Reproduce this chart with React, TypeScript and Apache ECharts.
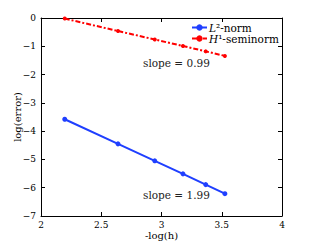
import React, { useEffect, useRef } from "react";
import * as echarts from "echarts";

const xValues = [2.197, 2.639, 2.944, 3.178, 3.367, 3.526];
const l2Values = [-3.58, -4.45, -5.05, -5.51, -5.89, -6.21];
const h1Values = [-0.02, -0.46, -0.76, -0.99, -1.18, -1.34];
const xTicks = [2, 2.5, 3, 3.5, 4];
const slopeLabels = ["slope = 0.99", "slope = 1.99"];

const FONT = "DejaVu Serif";

export default function App() {
  const ref = useRef<HTMLDivElement>(null);
  useEffect(() => {
    const chart = echarts.init(ref.current!, null, { renderer: "svg" });
    const axisCommon = {
      axisLine: { show: true, onZero: false, lineStyle: { color: "#000", width: 1 } },
      axisTick: { show: true, inside: true, length: 4, lineStyle: { color: "#000" } },
      splitLine: { show: false },
    };
    chart.setOption({
      animation: false,
      grid: { left: 41, right: 29, top: 18, bottom: 28, outerBoundsMode: "none", containLabel: false },
      xAxis: [
        {
          type: "value",
          min: 2,
          max: 4,
          interval: 0.5,
          position: "bottom",
          ...axisCommon,
          axisLabel: {
            color: "#000",
            fontFamily: FONT,
            fontSize: 9,
            margin: 4,
            formatter: (v: number) => (xTicks.includes(v) ? String(v) : ""),
          },
          name: "-log(h)",
          nameLocation: "middle",
          nameGap: 14,
          nameMoveOverlap: false,
          nameTextStyle: { color: "#000", fontFamily: FONT, fontSize: 10 },
        },
        {
          type: "value",
          min: 2,
          max: 4,
          interval: 0.5,
          position: "top",
          ...axisCommon,
          axisLabel: { show: false },
        },
      ],
      yAxis: [
        {
          type: "value",
          min: -7,
          max: 0,
          interval: 1,
          position: "left",
          ...axisCommon,
          axisLabel: {
            color: "#000",
            fontFamily: FONT,
            fontSize: 9,
            margin: 5,
            formatter: (v: number) => (v < 0 ? "\u2212" + Math.abs(v) : String(v)),
          },
          name: "log(error)",
          nameLocation: "middle",
          nameGap: 19,
          nameMoveOverlap: false,
          nameTextStyle: { color: "#000", fontFamily: FONT, fontSize: 10 },
        },
        {
          type: "value",
          min: -7,
          max: 0,
          interval: 1,
          position: "right",
          ...axisCommon,
          axisLabel: { show: false },
        },
      ],
      legend: {
        orient: "vertical",
        left: 191,
        top: 22,
        itemGap: 0,
        itemWidth: 15,
        itemHeight: 8,
        padding: 0,
        data: ["L2", "H1"],
        formatter: (n: string) => (n === "L2" ? "{i|L}²-norm" : "{i|H}¹-seminorm"),
        textStyle: {
          color: "#000",
          fontFamily: FONT,
          fontSize: 10.5,
          lineHeight: 10,
          padding: [0, 0, 0, -3],
          rich: {
            i: { fontStyle: "italic", fontFamily: FONT, fontSize: 10.5, lineHeight: 10, color: "#000" },
          },
        },
      },
      series: [
        {
          name: "L2",
          type: "line",
          data: xValues.map((x, i) => [x, l2Values[i]]),
          symbol: "circle",
          symbolSize: 5,
          itemStyle: { color: "#1f3fff" },
          lineStyle: { color: "#1f3fff", width: 2 },
        },
        {
          name: "H1",
          type: "line",
          data: xValues.map((x, i) => [x, h1Values[i]]),
          symbol: "circle",
          symbolSize: 4,
          itemStyle: { color: "#ff0000" },
          lineStyle: { color: "#ff0000", width: 2, type: [5, 2, 2, 2] },
        },
      ],
      graphic: [
        {
          type: "text",
          left: 143,
          top: 57,
          style: { text: slopeLabels[0], fontFamily: FONT, fontSize: 10.5, fill: "#222" },
        },
        {
          type: "text",
          left: 143,
          top: 189,
          style: { text: slopeLabels[1], fontFamily: FONT, fontSize: 10.5, fill: "#222" },
        },
      ],
    });
    return () => chart.dispose();
  }, []);
  return (
    <div
      ref={ref}
      style={{ position: "absolute", left: 0, top: 0, width: 311, height: 244 }}
    />
  );
}
